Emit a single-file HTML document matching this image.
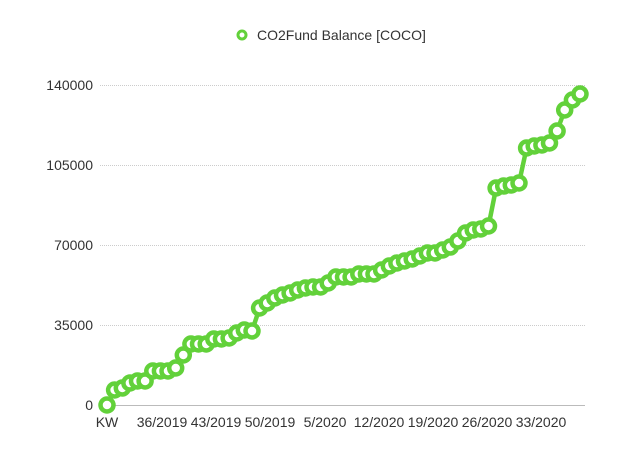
<!DOCTYPE html>
<html><head><meta charset="utf-8"><style>
html,body{margin:0;padding:0;background:#fff;}
svg{display:block;font-family:"Liberation Sans",sans-serif;}
</style></head><body>
<svg id="s" width="640" height="474" xmlns="http://www.w3.org/2000/svg">
<g stroke="#ccc" stroke-width="1" stroke-dasharray="1,1">
<line x1="100" y1="85.5" x2="585" y2="85.5"/>
<line x1="100" y1="165.5" x2="585" y2="165.5"/>
<line x1="100" y1="245.5" x2="585" y2="245.5"/>
<line x1="100" y1="325.5" x2="585" y2="325.5"/>
</g>
<line x1="100" y1="405.5" x2="585" y2="405.5" stroke="#bbb" stroke-width="1"/>
<g font-size="14" fill="#333" text-anchor="end">
<text x="93" y="90">140000</text>
<text x="93" y="170">105000</text>
<text x="93" y="250">70000</text>
<text x="93" y="330">35000</text>
<text x="93" y="410">0</text>
</g>
<g font-size="14" fill="#333" text-anchor="middle">
<text x="107" y="427">KW</text>
<text x="162" y="427">36/2019</text>
<text x="216" y="427">43/2019</text>
<text x="270" y="427">50/2019</text>
<text x="325" y="427">5/2020</text>
<text x="379" y="427">12/2020</text>
<text x="433" y="427">19/2020</text>
<text x="487" y="427">26/2020</text>
<text x="541" y="427">33/2020</text>
</g>
<circle cx="242" cy="35" r="4" fill="#fff" stroke="#62d13a" stroke-width="3"/>
<text x="257" y="40" font-size="14" fill="#333">CO2Fund Balance [COCO]</text>
<g id="d"></g>
</svg>
<script>
var ys=[405,390,388,383,381,381,371,371,371,368,355,344,344,344,339,339,338,333,330,331,308,303,298,295,293,290,288,287,287,283,277,277,277,274,274,274,270,266,263,261,259,256,253,253,250,247,241,233,230,229,226,188,186,185,183,148,146,145,143,131,110,100,94];
var n=ys.length,step=(580-107)/(n-1),pts=[],h='';
for(var i=0;i<n;i++){pts.push((107+i*step).toFixed(1)+','+ys[i]);}
h+='<polyline points="'+pts.join(' ')+'" fill="none" stroke="#62d13a" stroke-width="4.5" stroke-linejoin="round"/>';
for(var i=0;i<n;i++){h+='<circle cx="'+(107+i*step).toFixed(1)+'" cy="'+ys[i]+'" r="6.5" fill="#fff" stroke="#62d13a" stroke-width="4.5"/>';}
document.getElementById('d').innerHTML=h;
</script>
</body></html>
